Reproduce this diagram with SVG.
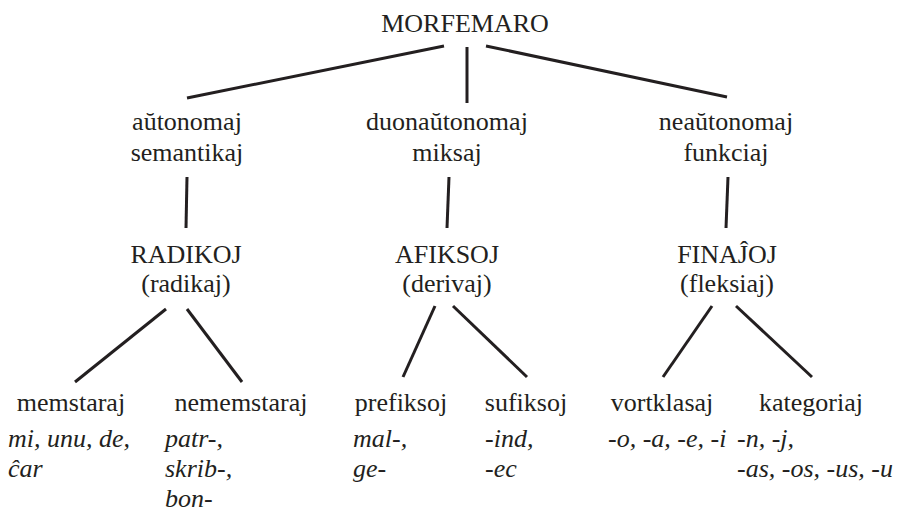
<svg xmlns="http://www.w3.org/2000/svg" width="917" height="508" viewBox="0 0 917 508">
<style>
text{font-size:26px;fill:#231f20}
.c{text-anchor:middle}
.i{font-style:italic}
#connectors line{stroke:#231f20;stroke-width:3;stroke-linecap:butt}
</style>
<rect width="917" height="508" fill="#ffffff"/>
<g id="connectors">
<line x1="444" y1="46" x2="187" y2="98"/>
<line x1="467" y1="47" x2="467" y2="103"/>
<line x1="486" y1="46" x2="727" y2="97"/>
<line x1="187" y1="177" x2="186" y2="228"/>
<line x1="449" y1="177" x2="447" y2="228"/>
<line x1="728" y1="177" x2="726" y2="228"/>
<line x1="166" y1="309" x2="75" y2="382"/>
<line x1="187" y1="309" x2="242" y2="382"/>
<line x1="435" y1="306" x2="403" y2="377"/>
<line x1="453" y1="306" x2="527" y2="377"/>
<line x1="712" y1="306" x2="663" y2="377"/>
<line x1="736" y1="306" x2="812" y2="377"/>
</g>
<g font-family="'Liberation Serif', 'Times New Roman', 'DejaVu Serif', serif">
<g id="morfemaro"><text class="c" x="465" y="32">MORFEMARO</text></g>
<g id="autonomaj"><text class="c" x="187" y="130">aŭtonomaj</text><text class="c" x="187" y="161">semantikaj</text></g>
<g id="duonautonomaj"><text class="c" x="447" y="130">duonaŭtonomaj</text><text class="c" x="447" y="161">miksaj</text></g>
<g id="neautonomaj"><text class="c" x="726" y="130">neaŭtonomaj</text><text class="c" x="726" y="161">funkciaj</text></g>
<g id="radikoj"><text class="c" x="186" y="263">RADIKOJ</text><text class="c" x="186" y="292">(radikaj)</text></g>
<g id="afiksoj"><text class="c" x="447" y="263">AFIKSOJ</text><text class="c" x="447" y="292">(derivaj)</text></g>
<g id="finajoj"><text class="c" x="727" y="263">FINAĴOJ</text><text class="c" x="727" y="292">(fleksiaj)</text></g>
<g id="memstaraj"><text class="c" x="71" y="411">memstaraj</text><text class="i" x="8" y="447">mi, unu, de,</text><text class="i" x="8" y="477">ĉar</text></g>
<g id="nememstaraj"><text class="c" x="241" y="411">nememstaraj</text><text class="i" x="165" y="447">patr-,</text><text class="i" x="165" y="477">skrib-,</text><text class="i" x="165" y="507">bon-</text></g>
<g id="prefiksoj"><text class="c" x="401" y="411">prefiksoj</text><text class="i" x="353" y="447">mal-,</text><text class="i" x="353" y="477">ge-</text></g>
<g id="sufiksoj"><text class="c" x="526" y="411">sufiksoj</text><text class="i" x="485" y="447">-ind,</text><text class="i" x="485" y="477">-ec</text></g>
<g id="vortklasaj"><text class="c" x="662" y="411">vortklasaj</text><text class="i" x="608" y="447">-o, -a, -e, -i</text></g>
<g id="kategoriaj"><text class="c" x="811" y="411">kategoriaj</text><text class="i" x="737" y="447">-n, -j,</text><text class="i" x="737" y="477">-as, -os, -us, -u</text></g>
</g>
</svg>
